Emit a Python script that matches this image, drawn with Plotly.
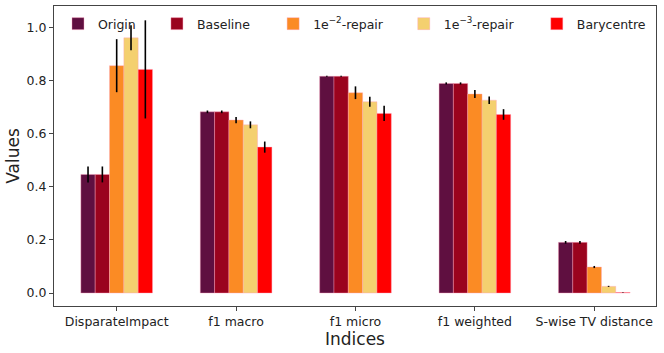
import plotly.graph_objects as go

# Datos
indices = ["DisparateImpact", "f1 macro", "f1 micro", "f1 weighted", "S-wise TV distance"]
series = ["Origin", "Baseline", "1e<sup>−2</sup>-repair", "1e<sup>−3</sup>-repair", "Barycentre"]

origin = [0.447, 0.683, 0.817, 0.790, 0.191]
baseline = [0.447, 0.683, 0.817, 0.790, 0.191]
repair_2 = [0.857, 0.652, 0.755, 0.750, 0.098]
repair_3 = [0.962, 0.634, 0.721, 0.727, 0.025]
barycentre = [0.843, 0.550, 0.677, 0.673, 0.002]

origin_err = [0.030, 0.005, 0.002, 0.004, 0.005]
baseline_err = [0.030, 0.005, 0.002, 0.004, 0.005]
repair_2_err = [0.100, 0.012, 0.024, 0.015, 0.004]
repair_3_err = [0.047, 0.013, 0.019, 0.014, 0.002]
barycentre_err = [0.185, 0.021, 0.029, 0.020, 0.001]

colors = ["#5f0f40", "#9a031e", "#fb8b24", "#f4d06f", "#ff0000"]

values = [origin, baseline, repair_2, repair_3, barycentre]
errors = [origin_err, baseline_err, repair_2_err, repair_3_err, barycentre_err]

# Una leyenda por serie, para repartirlas a lo ancho como en el original
legend_x = [0.0066, 0.171, 0.364, 0.581, 0.802]
legend_ids = ["legend", "legend2", "legend3", "legend4", "legend5"]

fig = go.Figure()
for name, vals, errs, col, lid in zip(series, values, errors, colors, legend_ids):
	fig.add_trace(go.Bar(
		x=indices, y=vals, name=name, legend=lid,
		marker=dict(color=col, line=dict(color="rgba(255,160,190,0.5)", width=0.8)),
		error_y=dict(type="data", array=errs, color="black", thickness=1.6, width=0),
	))

legends = {}
for lid, lx in zip(legend_ids, legend_x):
	legends[lid] = dict(
		orientation="h", x=lx, y=0.94, xanchor="left", yanchor="middle",
		bgcolor="rgba(0,0,0,0)", font=dict(size=12.5), itemwidth=30,
	)

fig.update_layout(
	width=664, height=353,
	margin=dict(l=54, r=8, t=6, b=47),
	barmode="group", bargap=0.4, bargroupgap=0,
	plot_bgcolor="white", paper_bgcolor="white",
	font=dict(family="DejaVu Sans", size=12.5, color="#222222"),
	showlegend=True,
	**legends,
)
fig.update_xaxes(
	title_text="Indices", title_font=dict(size=17), title_standoff=2, automargin=False,
	range=[-0.525, 4.517], showline=True, linecolor="#444444", linewidth=1.2, mirror=True,
	ticks="outside", ticklen=4, tickcolor="#444444", showgrid=False,
)
fig.update_yaxes(
	title_text="Values", title_font=dict(size=17), title_standoff=2, automargin=False,
	range=[-0.049, 1.082], showline=True, linecolor="#444444", linewidth=1.2, mirror=True,
	ticks="outside", ticklen=4, tickcolor="#444444", showgrid=False, zeroline=False,
	tickvals=[0, 0.2, 0.4, 0.6, 0.8, 1.0], ticktext=["0.0", "0.2", "0.4", "0.6", "0.8", "1.0"],
)

# Quitamos el margen del body para que la figura empiece en (0, 0)
fig.write_html(
	"out.html",
	config={"displayModeBar": False},
	post_script="document.body.style.margin='0';",
)
